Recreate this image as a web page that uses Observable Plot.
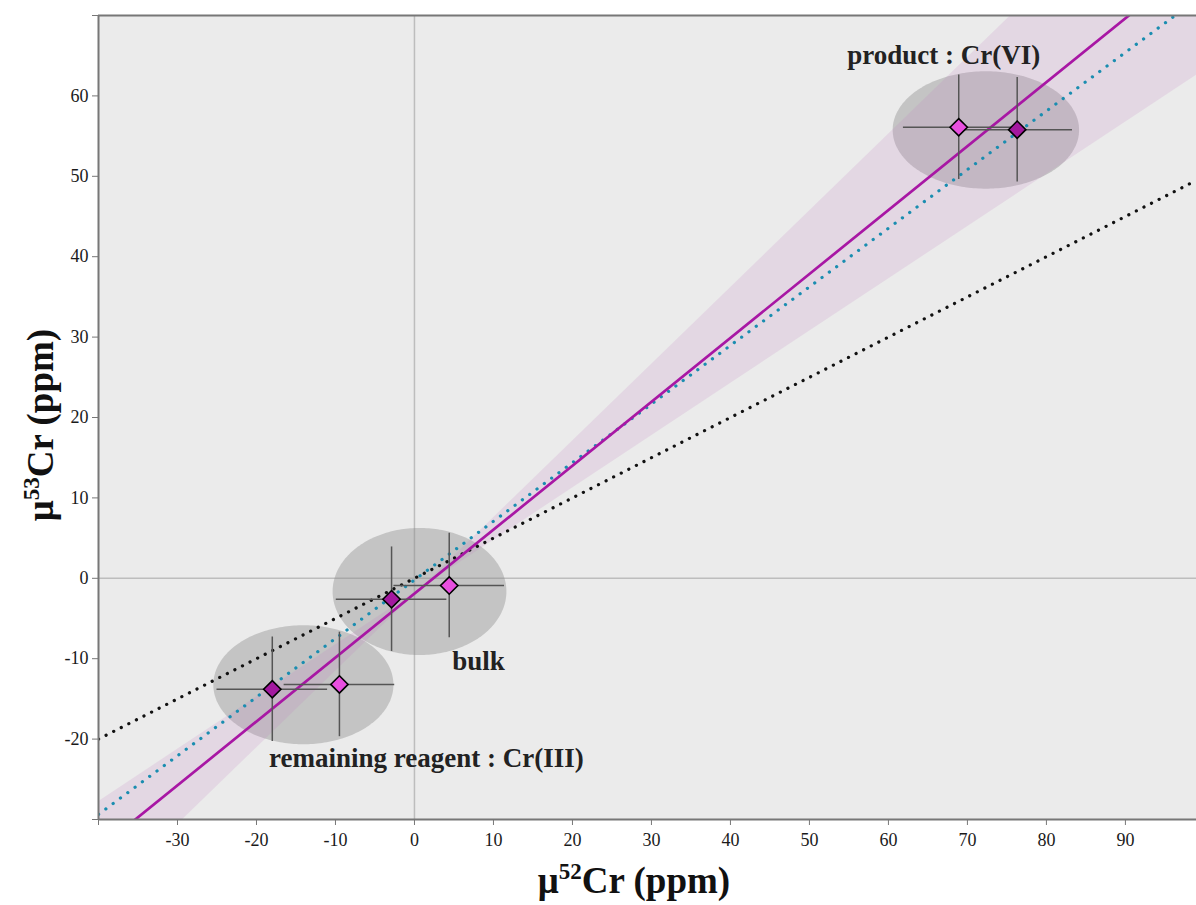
<!DOCTYPE html>
<html>
<head>
<meta charset="utf-8">
<script src="https://cdn.jsdelivr.net/npm/d3@7"></script>
<script src="https://cdn.jsdelivr.net/npm/@observablehq/plot@0.6"></script>
<style>
  html, body { margin: 0; padding: 0; background: #fff; }
  #chart svg { display: block; }
  #chart svg text { font-family: 'Liberation Serif', 'DejaVu Serif', serif; }
</style>
</head>
<body>
<div id="chart"></div>
<script>
// ---- data ----
const groups      = ["product", "bulk", "reagent"];
const lightX      = [68.9, 4.4, -9.5];
const lightY      = [56.1, -0.9, -13.2];
const darkX       = [76.3, -2.9, -18.0];
const darkY       = [55.8, -2.6, -13.8];
const errX        = [7, 7, 7];
const errY        = [6.5, 6.5, 6.5];

// grey group ellipses (center, semi-axes)
const ellCX = [72.4, 0.7, -14.0];
const ellCY = [55.7, -1.7, -13.3];
const ellRX = [11.8, 11.0, 11.4];
const ellRY = [7.3, 7.9, 7.4];

// reference lines: slope, intercept
const lineSlope     = [0.5, 0.729, 0.795];
const lineIntercept = [0, -0.2, -1.9];
const lineColor     = ["#111111", "#1a8db0", "#a817a4"];

// regression slope envelope (pivot + slopes)
const pivot      = [0.8, -1.26];
const bandSlopes = [0.65, 0.954];

// group labels
const labelText = ["product : Cr(VI)", "bulk", "remaining reagent : Cr(III)"];
const labelX    = [67.0, 8.1, 1.5];
const labelY    = [65.1, -10.3, -22.35];

const xTicks = d3.range(-40, 100, 10);
const yTicks = d3.range(-30, 80, 10);
const xDomain = [-40, 99];
const yDomain = [-30, 70];

// ---- derived tables ----
const lightPts = groups.map((g, i) => ({g, x: lightX[i], y: lightY[i], ex: errX[i], ey: errY[i]}));
const darkPts  = groups.map((g, i) => ({g, x: darkX[i],  y: darkY[i],  ex: errX[i], ey: errY[i]}));
const allPts = lightPts.concat(darkPts);

const ellPts = [];
groups.forEach((g, i) => {
  for (let k = 0; k <= 120; k++) {
    const t = Math.PI - Math.PI * k / 120;
    ellPts.push({g, x: ellCX[i] + ellRX[i] * Math.cos(t),
                 y1: ellCY[i] - ellRY[i] * Math.sin(t),
                 y2: ellCY[i] + ellRY[i] * Math.sin(t)});
  }
});

const bandPts = [xDomain[0], pivot[0], xDomain[1]].map(x => {
  const a = pivot[1] + bandSlopes[0] * (x - pivot[0]);
  const b = pivot[1] + bandSlopes[1] * (x - pivot[0]);
  return {x, y1: Math.min(a, b), y2: Math.max(a, b)};
});

const linePts = [];
lineSlope.forEach((s, i) => {
  [xDomain[0], xDomain[1]].forEach(x => linePts.push({i, x, y: s * x + lineIntercept[i]}));
});

const labels = labelText.map((t, i) => ({t, x: labelX[i], y: labelY[i]}));

const serif = "'Liberation Serif', 'DejaVu Serif', serif";

const svg = Plot.plot({
  width: 1196,
  height: 905,
  marginLeft: 98,
  marginRight: 0,
  marginTop: 15,
  marginBottom: 86,
  style: {fontFamily: serif, fontSize: "18px", color: "#222", background: "#fff"},
  x: {domain: xDomain},
  y: {domain: yDomain},
  marks: [
    Plot.frame({fill: "#ebebeb", stroke: null}),
    Plot.ruleX([0], {stroke: "#bdbdbd", strokeWidth: 1.5}),
    Plot.ruleY([0], {stroke: "#bdbdbd", strokeWidth: 1.5}),
    Plot.areaY(ellPts, {x: "x", y1: "y1", y2: "y2", z: "g", fill: "#8a8a8a", fillOpacity: 0.4, clip: true}),
    Plot.areaY(bandPts, {x: "x", y1: "y1", y2: "y2", fill: "#c080c0", fillOpacity: 0.18, clip: true}),
    Plot.line(linePts.filter(d => d.i === 0), {x: "x", y: "y", stroke: lineColor[0], strokeWidth: 3.2, strokeLinecap: "round", strokeDasharray: "0.1,8.4", clip: true}),
    Plot.line(linePts.filter(d => d.i === 1), {x: "x", y: "y", stroke: lineColor[1], strokeWidth: 3.2, strokeLinecap: "round", strokeDasharray: "0.1,9", clip: true}),
    Plot.line(linePts.filter(d => d.i === 2), {x: "x", y: "y", stroke: lineColor[2], strokeWidth: 2.7, clip: true}),
    Plot.ruleY(allPts, {y: "y", x1: d => d.x - d.ex, x2: d => d.x + d.ex, stroke: "#555", strokeWidth: 1.5}),
    Plot.ruleX(allPts, {x: "x", y1: d => d.y - d.ey, y2: d => d.y + d.ey, stroke: "#555", strokeWidth: 1.5}),
    Plot.dot(lightPts, {x: "x", y: "y", symbol: "diamond2", r: 7.8, fill: "#e84fdf", stroke: "#000", strokeWidth: 1.6}),
    Plot.dot(darkPts,  {x: "x", y: "y", symbol: "diamond2", r: 7.8, fill: "#a3189f", stroke: "#000", strokeWidth: 1.6}),
    Plot.text(labels, {x: "x", y: "y", text: "t", fontSize: 27, fontWeight: "bold", fontFamily: serif, fill: "#222", textAnchor: "middle", lineAnchor: "middle"}),
    Plot.ruleX([xDomain[0]], {stroke: "#777", strokeWidth: 2}),
    Plot.ruleY([yDomain[0], yDomain[1]], {stroke: "#777", strokeWidth: 2}),
    Plot.axisX({ticks: xTicks, tickFormat: d => (d === -40 ? "" : String(d)), tickSize: 6, tickPadding: 8, stroke: "#777", fill: "#1a1a1a", fontFamily: serif, fontSize: 18, label: null}),
    Plot.axisY({ticks: yTicks, tickFormat: d => (d === -30 || d === 70 ? "" : String(d)), tickSize: 6, tickPadding: 4, stroke: "#777", fill: "#1a1a1a", fontFamily: serif, fontSize: 18, label: null})
  ]
});

const s = d3.select(svg);
// x axis title
const xt = s.append("text")
  .attr("x", 634).attr("y", 893)
  .attr("text-anchor", "middle")
  .attr("font-family", serif).attr("font-weight", "bold").attr("font-size", 37).attr("fill", "#111");
xt.append("tspan").text("μ");
xt.append("tspan").attr("font-size", 23).attr("dy", -14).text("52");
xt.append("tspan").attr("dy", 14).text("Cr (ppm)");
// y axis title
const yt = s.append("text")
  .attr("transform", "translate(53,425) rotate(-90)")
  .attr("text-anchor", "middle")
  .attr("font-family", serif).attr("font-weight", "bold").attr("font-size", 37).attr("fill", "#111");
yt.append("tspan").text("μ");
yt.append("tspan").attr("font-size", 23).attr("dy", -14).text("53");
yt.append("tspan").attr("dy", 14).text("Cr (ppm)");

document.getElementById("chart").appendChild(svg);
</script>
</body>
</html>
